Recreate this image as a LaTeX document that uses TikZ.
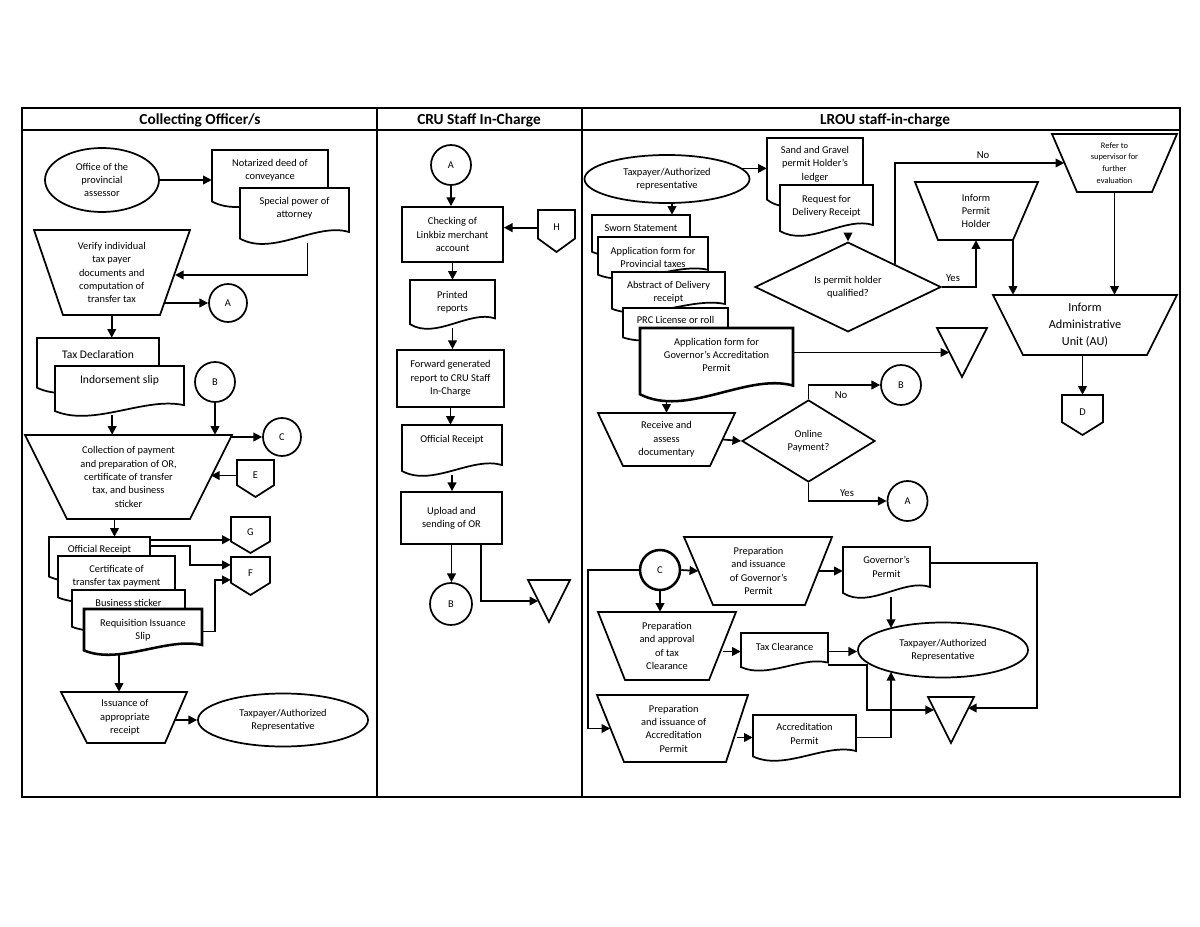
\documentclass[tikz,border=0pt]{standalone}
\usepackage{fontspec}
\setmainfont{Carlito}
\usetikzlibrary{shapes.geometric,arrows.meta,calc}
\tikzset{
  shp/.style={draw,line width=1.3pt,fill=white},
  thk/.style={line width=1.9pt},
  frm/.style={line width=1.2pt},
  arr/.style={line width=1.3pt,-{Triangle[length=6.5pt,width=6.5pt]}},
  txt/.style={align=center,inner sep=0pt,font=\fontsize{7.8}{10}\selectfont},
  ghost/.style={draw=none,inner sep=0pt,rectangle},
  circ/.style={shp,circle,inner sep=0pt,font=\fontsize{7.8}{10}\selectfont},
  ell/.style={shp,ellipse,inner sep=0pt,align=center,font=\fontsize{7.8}{10}\selectfont},
  dia/.style={shp,diamond,inner sep=0pt,align=center,font=\fontsize{7.8}{10}\selectfont},
  boxn/.style={shp,rectangle,inner sep=0pt,align=center,font=\fontsize{7.8}{10}\selectfont},
  hdr/.style={inner sep=0pt,font=\fontsize{11.5}{13}\selectfont\bfseries},
  lbl/.style={inner sep=0pt,font=\fontsize{8}{10}\selectfont},
}
% document shape: [style]{name}{x1}{y1}{x2}{y2}{text y}{text}
\newcommand\docnode[8][]{%
  \pgfmathsetmacro\dmw{#5-#3}%
  \pgfmathsetmacro\dmh{#6-#4}%
  \draw[shp,#1] (#3,#4) -- (#5,#4) -- (#5,{#6-0.2*\dmh}) .. controls ({#5-0.3*\dmw},{#6-0.38*\dmh}) and ({#3+0.3*\dmw},{#6+0.25*\dmh}) .. (#3,{#6-0.08*\dmh}) -- cycle;%
  \node[ghost,minimum width=\dmw*0.75pt,minimum height=\dmh*0.75pt] (#2) at ({(#3+#5)/2},{(#4+#6)/2}) {};%
  \node[txt] (#2-t) at ({(#3+#5)/2},#7) {#8};%
}
% manual operation: [textstyle]{name}{xtl}{xtr}{yt}{xbl}{xbr}{yb}{text}
\newcommand\trapnode[9][]{%
  \draw[shp] (#3,#5) -- (#4,#5) -- (#7,#8) -- (#6,#8) -- cycle;%
  \coordinate (#2-tl) at (#3,#5);\coordinate (#2-tr) at (#4,#5);%
  \coordinate (#2-bl) at (#6,#8);\coordinate (#2-br) at (#7,#8);%
  \node[txt,#1,minimum width={((#4+#7)/2-(#3+#6)/2)*0.75pt},minimum height={(#8-#5)*0.75pt}] (#2) at ({(#3+#4+#6+#7)/4},{(#5+#8)/2}) {#9};%
}
% off-page connector: {name}{cx}{yt}{w}{h}{text}
\newcommand\offpage[6]{%
  \draw[shp] ({#2-#4/2},#3) -- ({#2+#4/2},#3) -- ({#2+#4/2},{#3+0.68*#5}) -- (#2,{#3+#5}) -- ({#2-#4/2},{#3+0.68*#5}) -- cycle;%
  \node[txt,minimum width={#4*0.75pt},minimum height={0.84*#5*0.75pt}] (#1) at (#2,{#3+0.42*#5}) {#6};%
}
% merge triangle: {name}{x1}{x2}{yt}{yb}
\newcommand\mergetri[5]{%
  \draw[shp] (#2,#4) -- (#3,#4) -- ({(#2+#3)/2},#5) -- cycle;%
  \node[ghost,minimum width={(#3-#2)/2*0.75pt},minimum height={(#5-#4)*0.75pt}] (#1) at ({(#2+#3)/2},{(#4+#5)/2}) {};%
}
\begin{document}
\begin{tikzpicture}[x=0.75pt,y=-0.75pt]
\useasboundingbox (0,0) rectangle (1200,927);
\fill[white] (0,0) rectangle (1200,927);
% frame
\draw[frm] (22,108) rectangle (1180,797);
\draw[frm] (22,130) -- (1180,130);
\draw[frm] (377,108) -- (377,797);
\draw[frm] (582,108) -- (582,797);
\node[hdr] (h1) at (200,120) {Collecting Officer/s};
\node[hdr] (h2) at (479,120) {CRU Staff In-Charge};
\node[hdr] (h3) at (885,120) {LROU staff-in-charge};

% ===== left column =====
\node[ell,minimum width=85.5pt,minimum height=48pt] (opa) at (102,180) {Office of the\\provincial\\assessor};
\docnode{ndeed}{212}{150}{328}{206}{170}{Notarized deed of\\conveyance}
\docnode{spa}{240}{188}{349}{243}{208}{Special power of\\attorney}
\trapnode{verify}{34}{190}{230}{63}{160}{315}{Verify individual\\tax payer\\documents and\\computation of\\transfer tax}
\node[circ,minimum size=28.5pt] (a1) at (228,303) {A};
\docnode{taxd}{37}{338}{159}{392}{355}{\fontsize{8.7}{10}\selectfont Tax Declaration}
\docnode{indo}{55}{366}{184}{415}{380}{\fontsize{8.7}{10}\selectfont Indorsement slip}
\node[circ,minimum size=30pt] (b1) at (215,382) {B};
\trapnode{coll}{25}{232}{435}{67}{190}{519}{Collection of payment\\and preparation of OR,\\certificate of transfer\\tax, and business\\sticker}
\node[circ,minimum size=28.5pt] (c1) at (282,437) {C};
\offpage{E}{255.5}{460}{37}{37}{E}
\docnode{or1}{49}{537}{150}{580}{550}{Official Receipt}
\docnode{cert}{58}{556}{175}{601}{576}{Certificate of\\transfer tax payment}
\docnode{bus}{72}{590}{185}{630}{603}{Business sticker}
\docnode[thk]{req}{84}{609}{202}{654}{630}{Requisition Issuance\\Slip}
\offpage{G}{250.5}{517}{39}{36}{G}
\offpage{F}{250.5}{557}{39}{38}{F}
\trapnode{iss}{61}{187}{692}{87}{165}{743}{Issuance of\\appropriate\\receipt}
\node[ell,minimum width=127.5pt,minimum height=39.75pt] (ell2) at (283,720) {Taxpayer/Authorized\\Representative};

\draw[arr] (opa.east) -- (opa.east -| ndeed.west);
\coordinate (v1) at (175,275);
\coordinate (s1) at ([xshift=9.75pt]spa.south);
\draw[arr] (s1) |- (v1);
\coordinate (v2) at (164,303);
\draw[arr] (v2) -- (a1.west);
\draw[arr] (verify.south) -- (verify.south |- taxd.north);
\coordinate (i1) at ([xshift=-5.5pt]indo.south);
\draw[arr] (i1) -- (i1 |- coll.north);
\draw[arr] (b1.south) -- (b1.south |- coll.north);
\coordinate (v3) at (230,437);
\draw[arr] (v3) -- (c1.west);
\coordinate (v4) at (211,475.5);
\draw[arr] (E.west) -- (E.west -| v4);
\coordinate (k1) at ([xshift=-10.5pt]coll.south);
\draw[arr] (k1) -- (k1 |- or1.north);
\coordinate (o1) at ([yshift=-2.25pt]or1.north east);
\draw[arr] (o1) -- (o1 -| G.west);
\coordinate (o2) at ([yshift=-6.75pt]or1.north east);
\coordinate (o3) at ([yshift=6pt]F.west);
\draw[arr] (o2) -| ($(o3)+(-41,0)$) -- (o3);
\coordinate (o4) at ([yshift=-5.25pt]F.west);
\draw[arr] (req.east) -| ($(o4)+(-16,0)$) -- (o4);
\coordinate (r1) at ([xshift=-18pt]req.south);
\draw[arr] (r1) -- (r1 |- iss.north);
\coordinate (v5) at (175,720);
\draw[arr] (v5) -- (ell2.west);

% ===== middle column =====
\node[circ,minimum size=30pt] (a2) at (451,165) {A};
\node[boxn,minimum width=75.75pt,minimum height=41.25pt] (chk) at (452.5,234.5) {Checking of\\Linkbiz merchant\\account};
\offpage{H}{556.5}{210}{37}{42}{H}
\docnode{prt}{410}{280}{495}{328}{302}{Printed\\reports}
\node[boxn,minimum width=80.25pt,minimum height=42.75pt] (fwd) at (450.5,378.5) {Forward generated\\report to CRU Staff\\In-Charge};
\docnode{or2}{402}{425}{502}{475}{440}{Official Receipt}
\node[boxn,minimum width=75.75pt,minimum height=39pt] (upl) at (451.5,518) {Upload and\\sending of OR};
\node[circ,minimum size=31.5pt] (b2) at (451,604) {B};
\mergetri{m1}{528}{570}{580}{622}

\draw[arr] (a2.south) -- (a2.south |- chk.north);
\draw[arr] (H.west) -- (H.west -| chk.east);
\draw[arr] (chk.south) -- (chk.south |- prt.north);
\draw[arr] (prt.south) -- (prt.south |- fwd.north);
\draw[arr] (fwd.south) -- (fwd.south |- or2.north);
\draw[arr] (or2.south) -- (or2.south |- upl.north);
\draw[arr] (upl.south) -- (upl.south |- b2.north);
\coordinate (u1) at ([xshift=22pt]upl.south);
\draw[arr] (u1) |- (m1.west);

% ===== right column =====
\node[ell,minimum width=123.75pt,minimum height=36pt] (tp) at (667,179) {Taxpayer/Authorized\\representative};
\docnode{sg}{767}{138}{863}{205}{164}{Sand and Gravel\\permit Holder’s\\ledger}
\docnode{rdr}{780}{185}{873}{235}{206}{Request for\\Delivery Receipt}
\docnode{sworn}{592}{215}{690}{255}{228}{Sworn Statement}
\docnode{appf}{598}{237}{708}{278}{257.5}{Application form for\\Provincial taxes}
\docnode{abst}{612}{272}{725}{312}{292}{Abstract of Delivery\\receipt}
\docnode{prc}{623}{308}{728}{340}{320}{PRC License or roll}
\docnode[thk]{gapp}{640}{328}{793}{400}{355}{Application form for\\Governor’s Accreditation\\Permit}
\node[dia,minimum width=139.5pt,minimum height=63pt] (d1) at (848,287) {Is permit holder\\qualified?};
\trapnode[font=\fontsize{6.3}{8.8}\selectfont]{ref}{1052}{1177}{134}{1077}{1152}{192}{Refer to\\supervisor for\\further\\evaluation}
\trapnode{ipm}{915}{1038}{182}{938}{1013}{240}{Inform\\Permit\\Holder}
\trapnode[font=\fontsize{9.2}{12.5}\selectfont]{au}{993}{1177}{295}{1023}{1147}{355}{Inform\\Administrative\\Unit (AU)}
\offpage{D}{1082.5}{395}{41}{40}{D}
\mergetri{m2}{937}{987}{328}{377}
\node[circ,minimum size=30pt] (b3) at (901,385) {B};
\trapnode{rcv}{598}{735}{413}{623}{710}{466}{Receive and\\assess\\documentary}
\node[dia,minimum width=99.75pt,minimum height=61.5pt] (d2) at (808.5,441) {Online\\Payment?};
\node[circ,minimum size=30pt] (a3) at (907.5,501) {A};

\draw[arr] (tp.8) -- (tp.8 -| sg.west);
\coordinate (t1) at ([xshift=3.75pt]tp.south);
\draw[arr] (t1) -- (t1 |- sworn.north);
\draw[arr] (rdr.south -| d1.north) -- (d1.north);
\draw[arr] (d1.east) -| (ipm.south);
\coordinate (d1ne) at ($(d1.north)!0.5!(d1.east)$);
\draw[arr] (d1ne) |- (ref.west);
\draw[arr] (ipm-br) -- (ipm-br |- au.north);
\draw[arr] (ref.south) -- (ref.south |- au.north);
\draw[arr] (D.north |- au.south) -- (D.north);
\draw[arr] (gapp.east |- m2.west) -- (m2.west);
\draw[arr] (rcv.north |- gapp.south) -- (rcv.north);
\draw[arr] (rcv.east) -- (d2.west);
\draw[arr] (d2.north) |- (b3.west);
\draw[arr] (d2.south) |- (a3.west);
\node[lbl] (lno1) at (983,155) {No};
\node[lbl] (lyes1) at (953,278) {Yes};
\node[lbl] (lno2) at (841,395) {No};
\node[lbl] (lyes2) at (847,493) {Yes};

% ===== bottom right =====
\node[circ,thk,minimum size=30pt] (c2) at (660,570) {C};
\trapnode{gp}{684}{832}{537}{713}{805}{605}{Preparation\\and issuance\\of Governor’s\\Permit}
\docnode{gpd}{843}{547}{930}{597}{567}{Governor’s\\Permit}
\node[ell,minimum width=127.5pt,minimum height=41.25pt] (ell3) at (943,650) {Taxpayer/Authorized\\Representative};
\trapnode{ap}{598}{736}{612}{625}{709}{680}{Preparation\\and approval\\of tax\\Clearance}
\docnode{tcl}{741}{633}{828}{670}{647}{Tax Clearance}
\mergetri{m3}{928}{974}{697}{743}
\trapnode{ac}{597}{748}{695}{624}{726}{762}{Preparation\\and issuance of\\Accreditation\\Permit}
\docnode{acd}{753}{715}{856}{760}{734}{Accreditation\\Permit}

\draw[arr] (c2.east) -- (gp.west);
\draw[arr] (gp.east) -- (gp.east -| gpd.west);
\coordinate (g1) at ([yshift=-12pt]gpd.north east);
\coordinate (m3r) at (968,708);
\draw[arr] (g1) -- ++(107,0) |- (m3r);
\coordinate (e3t) at (891,628);
\draw[arr] (e3t |- gpd.south) -- (e3t);
\draw[arr] (c2.south) -- (c2.south |- ap.north);
\draw[arr] (tcl.west -| ap.east) -- (tcl.west);
\draw[arr] (tcl.east) -- (tcl.east -| ell3.west);
\coordinate (t2) at ([yshift=3.75pt]tcl.south east);
\coordinate (m3l) at (934,710);
\draw[arr] (t2) -| ($(m3l)+(-67,0)$) -- (m3l);
\coordinate (cl) at (588,570);
\draw[arr] (c2.west) -- (cl) |- (ac.west);
\draw[arr] (acd.west -| ac.east) -- (acd.west);
\coordinate (e3b) at (891,672);
\draw[arr] (acd.east) -| (e3b);
\end{tikzpicture}
\end{document}
